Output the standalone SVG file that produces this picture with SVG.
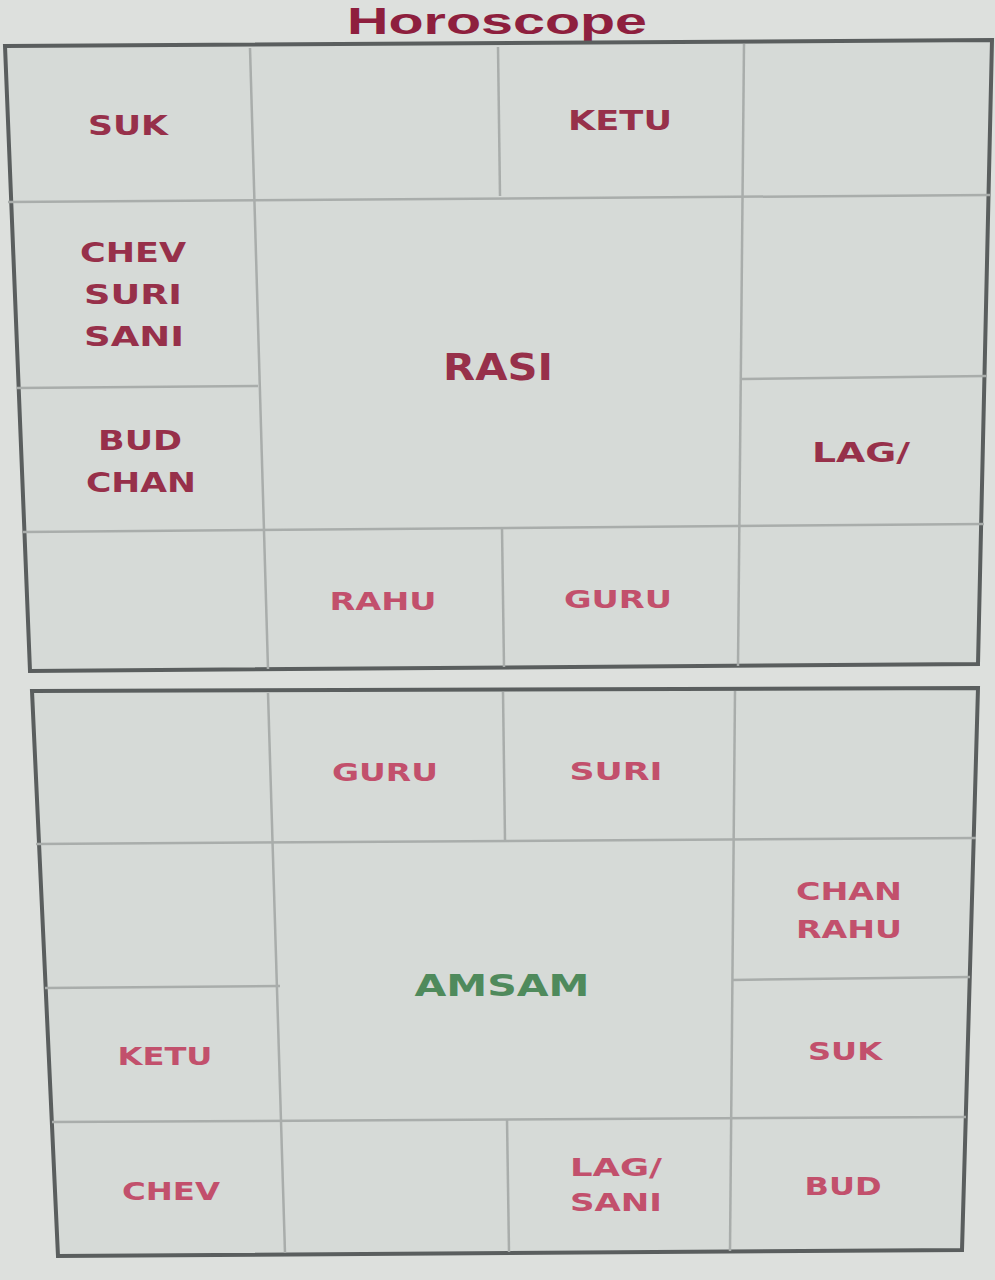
<svg xmlns="http://www.w3.org/2000/svg" width="995" height="1280" viewBox="0 0 995 1280">
<style>
.bg{fill:#dde0dd}
.frame{fill:#d6dad7;stroke:#5a5e5e;stroke-width:4}
.g{stroke:#a9adab;stroke-width:2.5;fill:none}
.t{font-family:"DejaVu Sans",sans-serif;font-weight:bold;font-size:26px;text-anchor:middle;fill:#97304a}
.t2{font-family:"DejaVu Sans",sans-serif;font-weight:bold;font-size:25px;text-anchor:middle;fill:#c2506c}
.big{font-size:38px}
.am{fill:#4f8a5c;font-size:30px}
.title{font-family:"Liberation Sans",Arial,sans-serif;font-weight:bold;font-size:37px;text-anchor:middle;fill:#8e1f3e}
</style>
<rect class="bg" x="0" y="0" width="995" height="1280"/>
<text class="title" x="497" y="34" textLength="300" lengthAdjust="spacingAndGlyphs">Horoscope</text>

<g id="rasi-chart">
<polygon class="frame" points="5,46 992,40 978,664 30,671"/>
<g id="rasi-grid">
<line class="g" x1="250" y1="48" x2="268" y2="669"/>
<line class="g" x1="498" y1="47" x2="500" y2="196"/>
<line class="g" x1="502" y1="528" x2="504" y2="667"/>
<line class="g" x1="744" y1="44" x2="738" y2="666"/>
<line class="g" x1="8" y1="202" x2="990" y2="195"/>
<line class="g" x1="17" y1="388" x2="258" y2="386"/>
<line class="g" x1="742" y1="379" x2="986" y2="376"/>
<line class="g" x1="23" y1="532" x2="984" y2="524"/>
</g>
<g id="rasi-labels">
<text class="t" x="128" y="135" textLength="80" lengthAdjust="spacingAndGlyphs">SUK</text>
<text class="t" x="620" y="130" textLength="104" lengthAdjust="spacingAndGlyphs">KETU</text>
<text class="t" x="133" y="262" textLength="106" lengthAdjust="spacingAndGlyphs">CHEV</text>
<text class="t" x="133" y="304" textLength="98" lengthAdjust="spacingAndGlyphs">SURI</text>
<text class="t" x="134" y="346" textLength="100" lengthAdjust="spacingAndGlyphs">SANI</text>
<text class="t big" x="498" y="380" textLength="110" lengthAdjust="spacingAndGlyphs">RASI</text>
<text class="t" x="140" y="450" textLength="84" lengthAdjust="spacingAndGlyphs">BUD</text>
<text class="t" x="141" y="492" textLength="110" lengthAdjust="spacingAndGlyphs">CHAN</text>
<text class="t" x="861" y="462" textLength="98" lengthAdjust="spacingAndGlyphs">LAG/</text>
<text class="t2" x="383" y="610" textLength="107" lengthAdjust="spacingAndGlyphs">RAHU</text>
<text class="t2" x="618" y="608" textLength="108" lengthAdjust="spacingAndGlyphs">GURU</text>
</g>
</g>

<g id="amsam-chart">
<polygon class="frame" points="32,691 978,688 962,1250 58,1256"/>
<g id="amsam-grid">
<line class="g" x1="268" y1="693" x2="285" y2="1253"/>
<line class="g" x1="503" y1="692" x2="505" y2="840"/>
<line class="g" x1="507" y1="1119" x2="509" y2="1252"/>
<line class="g" x1="735" y1="691" x2="730" y2="1251"/>
<line class="g" x1="36" y1="844" x2="976" y2="838"/>
<line class="g" x1="45" y1="988" x2="280" y2="986"/>
<line class="g" x1="732" y1="980" x2="970" y2="977"/>
<line class="g" x1="52" y1="1122" x2="966" y2="1117"/>
</g>
<g id="amsam-labels">
<text class="t2" x="385" y="781" textLength="106" lengthAdjust="spacingAndGlyphs">GURU</text>
<text class="t2" x="616" y="780" textLength="93" lengthAdjust="spacingAndGlyphs">SURI</text>
<text class="t2" x="849" y="900" textLength="106" lengthAdjust="spacingAndGlyphs">CHAN</text>
<text class="t2" x="849" y="938" textLength="106" lengthAdjust="spacingAndGlyphs">RAHU</text>
<text class="t2 am" x="502" y="996" textLength="175" lengthAdjust="spacingAndGlyphs">AMSAM</text>
<text class="t2" x="165" y="1065" textLength="95" lengthAdjust="spacingAndGlyphs">KETU</text>
<text class="t2" x="845" y="1060" textLength="74" lengthAdjust="spacingAndGlyphs">SUK</text>
<text class="t2" x="171" y="1200" textLength="98" lengthAdjust="spacingAndGlyphs">CHEV</text>
<text class="t2" x="616" y="1176" textLength="92" lengthAdjust="spacingAndGlyphs">LAG/</text>
<text class="t2" x="616" y="1211" textLength="92" lengthAdjust="spacingAndGlyphs">SANI</text>
<text class="t2" x="843" y="1195" textLength="77" lengthAdjust="spacingAndGlyphs">BUD</text>
</g>
</g>
</svg>
